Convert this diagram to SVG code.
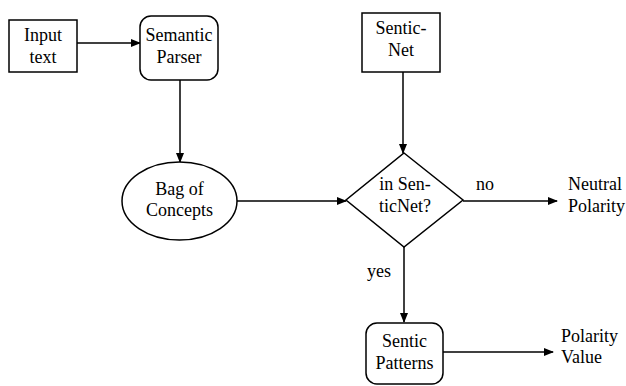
<svg xmlns="http://www.w3.org/2000/svg" width="626" height="386" viewBox="0 0 626 386">
<defs>
<marker id="ah" markerWidth="10" markerHeight="8" refX="9" refY="4" orient="auto" markerUnits="userSpaceOnUse">
<path d="M0,0 L10,4 L0,8 Z" fill="#000"/>
</marker>
</defs>
<rect width="626" height="386" fill="#fff"/>
<g id="connectors" fill="none" stroke="#000" stroke-width="1.5" marker-end="url(#ah)">
<line x1="77" y1="43" x2="140" y2="43"/>
<line x1="180" y1="80" x2="180" y2="162"/>
<line x1="403" y1="72" x2="403" y2="153"/>
<line x1="237" y1="201" x2="346" y2="201"/>
<line x1="463" y1="201" x2="557" y2="201"/>
<line x1="404" y1="247" x2="404" y2="322"/>
<line x1="443" y1="352" x2="553" y2="352"/>
</g>
<g id="labels">
<text x="476" y="190" font-family="Times New Roman, Tinos, Liberation Serif, serif" font-size="18">no</text>
<text x="367" y="277" font-family="Times New Roman, Tinos, Liberation Serif, serif" font-size="18">yes</text>
</g>
<g id="input">
<rect x="9" y="20" width="68" height="52" fill="#fff" stroke="#000" stroke-width="1.5"/>
<text x="43" y="41" text-anchor="middle" font-family="Times New Roman, Tinos, Liberation Serif, serif" font-size="18">Input</text>
<text x="43" y="63" text-anchor="middle" font-family="Times New Roman, Tinos, Liberation Serif, serif" font-size="18">text</text>
</g>
<g id="parser">
<rect x="140" y="16" width="78" height="64" rx="11" fill="#fff" stroke="#000" stroke-width="1.5"/>
<text x="179" y="41" text-anchor="middle" font-family="Times New Roman, Tinos, Liberation Serif, serif" font-size="18">Semantic</text>
<text x="179" y="63" text-anchor="middle" font-family="Times New Roman, Tinos, Liberation Serif, serif" font-size="18">Parser</text>
</g>
<g id="senticnet">
<rect x="362" y="13" width="78" height="59" fill="#fff" stroke="#000" stroke-width="1.5"/>
<text x="401" y="34" text-anchor="middle" font-family="Times New Roman, Tinos, Liberation Serif, serif" font-size="18">Sentic-</text>
<text x="401" y="56" text-anchor="middle" font-family="Times New Roman, Tinos, Liberation Serif, serif" font-size="18">Net</text>
</g>
<g id="bag">
<ellipse cx="179.5" cy="201" rx="57.5" ry="39" fill="#fff" stroke="#000" stroke-width="1.5"/>
<text x="179.5" y="195" text-anchor="middle" font-family="Times New Roman, Tinos, Liberation Serif, serif" font-size="18">Bag of</text>
<text x="179.5" y="216" text-anchor="middle" font-family="Times New Roman, Tinos, Liberation Serif, serif" font-size="18">Concepts</text>
</g>
<g id="decision">
<polygon points="404,153 463,200 404,247 346,200" fill="#fff" stroke="#000" stroke-width="1.5"/>
<text x="405" y="190" text-anchor="middle" font-family="Times New Roman, Tinos, Liberation Serif, serif" font-size="18">in Sen-</text>
<text x="405" y="212" text-anchor="middle" font-family="Times New Roman, Tinos, Liberation Serif, serif" font-size="18">ticNet?</text>
</g>
<g id="neutral">
<text x="568" y="190" font-family="Times New Roman, Tinos, Liberation Serif, serif" font-size="18">Neutral</text>
<text x="568" y="212" font-family="Times New Roman, Tinos, Liberation Serif, serif" font-size="18">Polarity</text>
</g>
<g id="patterns">
<rect x="366" y="323" width="77" height="61" rx="11" fill="#fff" stroke="#000" stroke-width="1.5"/>
<text x="404.5" y="347" text-anchor="middle" font-family="Times New Roman, Tinos, Liberation Serif, serif" font-size="18">Sentic</text>
<text x="404.5" y="369" text-anchor="middle" font-family="Times New Roman, Tinos, Liberation Serif, serif" font-size="18">Patterns</text>
</g>
<g id="polarity">
<text x="561" y="342" font-family="Times New Roman, Tinos, Liberation Serif, serif" font-size="18">Polarity</text>
<text x="561" y="363" font-family="Times New Roman, Tinos, Liberation Serif, serif" font-size="18">Value</text>
</g>
</svg>
